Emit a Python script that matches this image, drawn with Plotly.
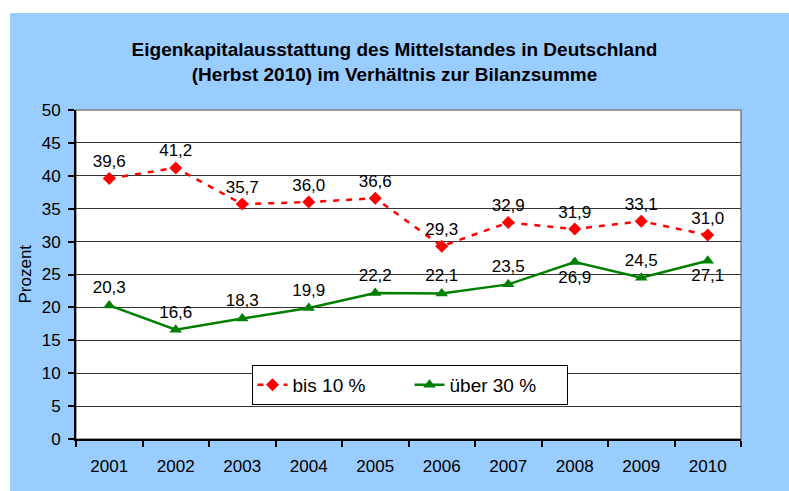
import plotly.graph_objects as go

years = ["2001", "2002", "2003", "2004", "2005", "2006", "2007", "2008", "2009", "2010"]
bis10 = [39.6, 41.2, 35.7, 36.0, 36.6, 29.3, 32.9, 31.9, 33.1, 31.0]
ueber30 = [20.3, 16.6, 18.3, 19.9, 22.2, 22.1, 23.5, 26.9, 24.5, 27.1]
ueber30_pos = ["top center"] * 7 + ["bottom center", "top center", "bottom center"]
y_ticks = [0, 5, 10, 15, 20, 25, 30, 35, 40, 45, 50]

FONT = "Liberation Sans, Arial, sans-serif"
W, H = 789, 491
L, R, T, B = 76, 48, 110, 52
PW, PH = W - L - R, H - T - B

fig = go.Figure()
fig.add_trace(go.Scatter(
    x=years, y=bis10, name="bis 10 %", mode="lines+markers+text",
    line=dict(color="#FF0000", width=2.5, dash="6px,7px"),
    marker=dict(symbol="diamond", size=10, color="#FF0000"),
    texttemplate="%{y:.1f}", textposition="top center",
    textfont=dict(size=17, color="#000000", family=FONT),
))
fig.add_trace(go.Scatter(
    x=years, y=ueber30, name="über 30 %", mode="lines+markers+text",
    line=dict(color="#008000", width=2.5),
    marker=dict(symbol="triangle-up", size=11, color="#008000"),
    texttemplate="%{y:.1f}", textposition=ueber30_pos,
    textfont=dict(size=17, color="#000000", family=FONT),
))

# blue chart frame
fig.add_shape(type="rect", xref="paper", yref="paper",
              x0=(10 - L) / PW, x1=(W - L) / PW + 0.01,
              y0=-(B - 2) / PH - 0.01, y1=1 + (T - 13) / PH,
              fillcolor="#99CCFF", line=dict(width=0), layer="below")
# plot area border
fig.add_shape(type="rect", xref="paper", yref="paper", x0=0, x1=1, y0=0, y1=1,
              line=dict(color="#808080", width=1.5), fillcolor="white", layer="below")

fig.add_annotation(text="Prozent", xref="paper", yref="paper",
                   x=(25 - L) / PW, y=0.5, xanchor="center", yanchor="middle",
                   textangle=-90, showarrow=False,
                   font=dict(size=17, color="#000000", family=FONT))

fig.update_layout(
    width=W, height=H,
    margin=dict(l=L, r=R, t=T, b=B),
    paper_bgcolor="white", plot_bgcolor="white",
    separators=",.",
    font=dict(family=FONT, size=17, color="#000000"),
    title=dict(text="<b>Eigenkapitalausstattung des Mittelstandes in Deutschland<br>(Herbst 2010) im Verhältnis zur Bilanzsumme</b>",
               x=0.5, xanchor="center", y=1 - 56 / H, yanchor="middle", yref="container",
               font=dict(size=19, family=FONT, color="#000000")),
    showlegend=True,
    legend=dict(orientation="h", x=(409.5 - L) / PW, xanchor="center",
                y=(439 - 385) / PH, yanchor="middle", bgcolor="white", bordercolor="#000000",
                borderwidth=1, font=dict(size=19, family=FONT),
                entrywidth=112, entrywidthmode="pixels",
                traceorder="normal"),
    xaxis=dict(type="category", range=[-0.5, 9.5], tickson="boundaries",
               ticks="outside", ticklen=6, tickcolor="#000000", tickwidth=1.5,
               showline=True, linecolor="#000000", linewidth=2, showgrid=False,
               ticklabelstandoff=11, tickfont=dict(size=17), fixedrange=True),
    yaxis=dict(range=[0, 50], tickvals=y_ticks, ticks="outside", ticklen=6,
               tickcolor="#000000", tickwidth=1.5, showline=True, linecolor="#000000",
               linewidth=2, showgrid=True, gridcolor="#333333", gridwidth=1,
               zeroline=False, ticklabelstandoff=4, tickfont=dict(size=17), fixedrange=True),
)

fig.write_html("out.html", post_script="document.body.style.margin='0';",
               config={"displayModeBar": False})
